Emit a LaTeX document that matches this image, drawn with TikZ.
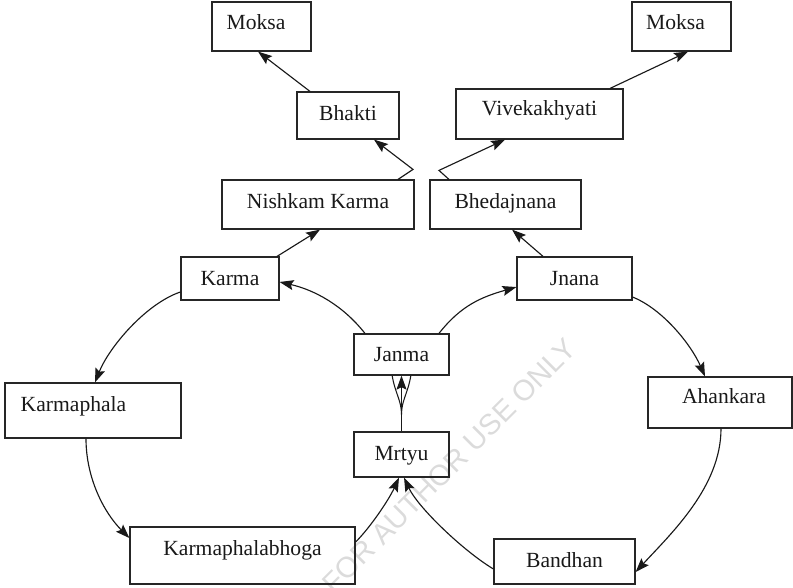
\documentclass[tikz,border=0pt]{standalone}
\usepackage{fontspec}
\setmainfont{Liberation Serif}
\newfontfamily\wmfont{Liberation Sans}
\usetikzlibrary{arrows.meta}

\begin{document}
\begin{tikzpicture}[x=0.75pt, y=-0.75pt,
  box/.style={draw=black!85, line width=0.9pt, rectangle, inner sep=0pt,
    text=black!90, font=\fontsize{16.2pt}{19pt}\selectfont,
    text height=12.5pt, text depth=1.8pt},
  link/.style={draw=black!90, line width=0.85pt,
    -{Stealth[length=10.5pt, width=7.5pt, inset=1.8pt]}},
  plain/.style={draw=black!90, line width=0.8pt}]

\useasboundingbox (0,0) rectangle (793,587);

% watermark
\node[rotate=45, text=gray!28, font=\wmfont\fontsize{21.8pt}{24pt}\selectfont]
  (wm) at (449,466) {FOR AUTHOR USE ONLY};

% boxes
\node[box, minimum width=74.25pt, minimum height=36.75pt, text depth=8.5pt]  (mokL)    at (261.5,26.5) {Moksa\hspace*{8.25pt}};
\node[box, minimum width=76.5pt,  minimum height=35.25pt, text depth=5.5pt]  (bhakti)  at (348,115.5)  {Bhakti};
\node[box, minimum width=74.25pt, minimum height=36.75pt, text depth=7.8pt]  (mokR)    at (681.5,26.5) {Moksa\hspace*{9pt}};
\node[box, minimum width=125.25pt,minimum height=37.5pt,  text depth=10pt]   (vivek)   at (539.5,114)  {Vivekakhyati};
\node[box, minimum width=144pt,   minimum height=36.75pt, text depth=6.3pt]  (nishkam) at (318,204.5)  {Nishkam Karma};
\node[box, minimum width=113.25pt,minimum height=36.75pt, text depth=6.3pt]  (bhed)    at (505.5,204.5){Bhedajnana};
\node[box, minimum width=73.5pt,  minimum height=32.25pt]                    (karma)   at (230,278.5)  {Karma};
\node[box, minimum width=86.25pt, minimum height=32.25pt]                    (jnana)   at (574.5,278.5){Jnana};
\node[box, minimum width=71.25pt, minimum height=30.75pt]                    (janma)   at (401.5,354.5){Janma};
\node[box, minimum width=132pt,   minimum height=41.25pt, text depth=10.8pt] (kphala)  at (93,410.5)   {Karmaphala\hspace*{29.25pt}};
\node[box, minimum width=168.75pt,minimum height=42.75pt, text depth=13pt]   (kpb)     at (242.5,555.5){Karmaphalabhoga};
\node[box, minimum width=71.25pt, minimum height=33.75pt, text depth=4pt]    (mrtyu)   at (401.5,454.5){Mrtyu};
\node[box, minimum width=105.75pt,minimum height=33.75pt, text depth=4pt]    (bandhan) at (564.5,561.5){Bandhan};
\node[box, minimum width=108pt,   minimum height=38.25pt, text depth=10.8pt] (ahank)   at (720,402.5)  {\hspace*{6pt}Ahankara};

% upward chains
\draw[link] ([xshift=-28.5pt]bhakti.north) -- ([xshift=-2.6pt]mokL.south);
\draw[link] ([xshift=60pt]nishkam.north) -- ++(15,-10) -- ([xshift=19.5pt]bhakti.south);
\draw[link] ([xshift=-42.4pt]bhed.north) -- ++(-10,-9) -- ([xshift=-25.9pt]vivek.south);
\draw[link] ([xshift=52.9pt]vivek.north) -- ([xshift=4.9pt]mokR.south);
\draw[link] ([xshift=35.25pt]karma.north) -- ([xshift=1.5pt]nishkam.south);
\draw[link] ([xshift=-23.6pt]jnana.north) -- ([xshift=4.9pt]bhed.south);

% left cycle
\draw[link] ([xshift=-27.4pt]janma.north) .. controls +(-22,-28) and +(35,8) .. ([yshift=-2.6pt]karma.east);
\draw[link] ([yshift=-10.1pt]karma.west) .. controls +(-35,12) and +(14,-35) .. ([xshift=1.5pt]kphala.north);
\draw[link] ([xshift=-5.25pt]kphala.south) .. controls +(0,40) and +(-25,-25) .. ([yshift=13.1pt]kpb.west);
\draw[link] ([yshift=10.1pt]kpb.east) .. controls +(15,-15) and +(-10,22) .. ([xshift=-1.9pt]mrtyu.south);

% right cycle
\draw[link] ([xshift=28.1pt]janma.north) .. controls +(22,-28) and +(-35,10) .. ([yshift=-6.4pt]jnana.west);
\draw[link] ([yshift=-13.9pt]jnana.east) .. controls +(30,12) and +(-14,-32) .. ([xshift=-11.25pt]ahank.north);
\draw[link] ([xshift=0.75pt]ahank.south) .. controls +(0,58) and +(36,-39) .. ([yshift=-7.9pt]bandhan.east);
\draw[link] ([yshift=-5.6pt]bandhan.west) .. controls +(-30,-18) and +(14,30) .. ([xshift=1.9pt]mrtyu.south);

% death to birth
\draw[link] (mrtyu.north) -- (janma.south);
\path (mrtyu.north) ++(0,-17) coordinate (mj);
\draw[plain] ([xshift=-7pt]janma.south) .. controls +(3,18) and +(0,-14) .. (mj);
\draw[plain] ([xshift=7pt]janma.south) .. controls +(-3,18) and +(0,-14) .. (mj);

\end{tikzpicture}
\end{document}
